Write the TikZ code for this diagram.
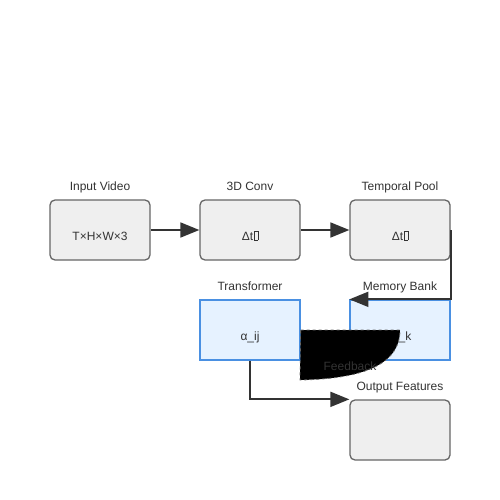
\documentclass[tikz,border=0pt]{standalone}
\usepackage{fontspec}
\setmainfont{Liberation Sans}
\usetikzlibrary{arrows.meta}
\definecolor{txt}{HTML}{333333}
\definecolor{gfill}{HTML}{EFEFEF}
\definecolor{gline}{HTML}{666666}
\definecolor{bfill}{HTML}{E6F2FF}
\definecolor{bline}{HTML}{4A90E2}
\definecolor{arr}{HTML}{333333}
\newcommand{\tofu}{{\setlength{\fboxsep}{0pt}\setlength{\fboxrule}{0.3pt}\hspace{0.05em}\fbox{\rule{0pt}{0.72em}\hspace{0.32em}}}}
\begin{document}
\begin{tikzpicture}[x=1pt,y=-1pt,
  every node/.style={font=\fontsize{12pt}{14pt}\selectfont, text=txt, inner sep=0pt},
  graybox/.style={draw=gline, fill=gfill, line width=1.3pt, rounded corners=5pt, minimum width=100pt, minimum height=60pt},
  bluebox/.style={draw=bline, fill=bfill, line width=1.3pt, minimum width=100pt, minimum height=60pt},
  conn/.style={draw=arr, line width=1.8pt, -{Triangle[length=19pt,width=15pt]}},
  ttl/.style={anchor=base},
  inner/.style={anchor=base}]
\useasboundingbox (0,0) rectangle (500,500);
\fill[white] (0,0) rectangle (500,500);
% boxes
\node[graybox] (iv) at (100,230) {};
\node[graybox] (cv) at (250,230) {};
\node[graybox] (tp) at (400,230) {};
\node[bluebox] (tr) at (250,330) {};
\node[bluebox] (mb) at (400,330) {};
\node[graybox] (of) at (400,430) {};
% titles
\node[ttl] (tiv) at (100,190) {Input Video};
\node[ttl] (tcv) at (250,190) {3D Conv};
\node[ttl] (ttp) at (400,190) {Temporal Pool};
\node[ttl] (ttr) at (250,290) {Transformer};
\node[ttl] (tmb) at (400,290) {Memory Bank};
\node[ttl] (tof) at (400,390) {Output Features};
% inner texts
\node[inner] (iiv) at (100,240) {T×H×W×3};
\node[inner] (icv) at (250,240) {Δt\tofu};
\node[inner] (itp) at (400,240) {Δt\tofu};
\node[inner] (itr) at (250,340) {α\_ij};
\node[inner] (imb) at (400,340) {M\_k};
% connectors
\draw[conn] (iv.east) -- (cv.west);
\draw[conn] (cv.east) -- (tp.west);
\draw[conn] (tp.east) -- (tp.east |- mb.north) -- (mb.north west);
\draw[conn] (tr.south) -- (tr.south |- of.north) -- (of.north west);
% feedback blob
\draw[gline, dashed, line width=0.8pt, fill=black] (tr.east) -- (mb.center) .. controls (400,368) and (355,379) .. (300,380) -- cycle;
\node[anchor=base, text=txt] (fb) at (350,370) {Feedback};
\end{tikzpicture}
\end{document}
